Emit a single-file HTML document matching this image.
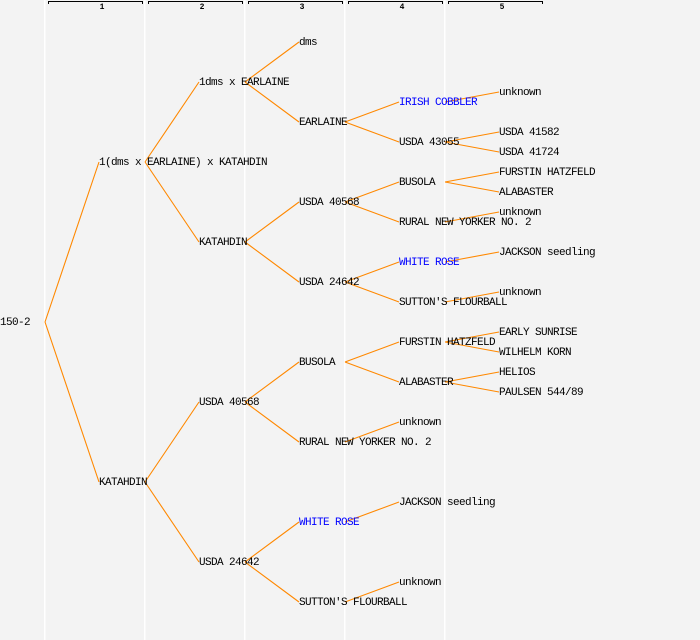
<!DOCTYPE html>
<html><head><meta charset="utf-8"><style>
html,body{margin:0;padding:0;background:#f3f3f3;}
svg{display:block;}
text{font-family:"Liberation Mono","DejaVu Sans Mono",monospace;font-size:11px;letter-spacing:-0.6px;fill:#000;dominant-baseline:middle;}
.b{fill:#0000ff;}
.h{font-size:8px;font-weight:bold;text-anchor:middle;letter-spacing:0;}
</style></head><body>
<svg width="700" height="640" viewBox="0 0 700 640" xmlns="http://www.w3.org/2000/svg">
<rect width="700" height="640" fill="#f3f3f3"/>
<g fill="#ffffff">
<rect x="44" y="0" width="1.5" height="640"/><rect x="144" y="0" width="1.5" height="640"/>
<rect x="244" y="0" width="1.5" height="640"/><rect x="344" y="0" width="1.5" height="640"/>
<rect x="444" y="0" width="1.5" height="640"/>
</g>
<g stroke="#000" stroke-width="1" fill="none">
<path d="M48.5 4V1.5H142.5V4"/><path d="M148.5 4V1.5H242.5V4"/><path d="M248.5 4V1.5H342.5V4"/>
<path d="M348.5 4V1.5H442.5V4"/><path d="M448.5 4V1.5H542.5V4"/>
</g>
<text class="h" x="102" y="7">1</text><text class="h" x="202" y="7">2</text><text class="h" x="302" y="7">3</text><text class="h" x="402" y="7">4</text><text class="h" x="502" y="7">5</text>
<g stroke="#ff8800" stroke-width="1.1" fill="none">
<path d="M45 322L99 162M45 322L99 482"/>
<path d="M145 162L199 82M145 162L199 242M145 482L199 402M145 482L199 562"/>
<path d="M245 82L299 42M245 82L299 122M245 242L299 202M245 242L299 282M245 402L299 362M245 402L299 442M245 562L299 522M245 562L299 602"/>
<path d="M345 122L399 102M345 122L399 142M345 202L399 182M345 202L399 222M345 282L399 262M345 282L399 302M345 362L399 342M345 362L399 382M345 442L399 422M345 522L399 502M345 602L399 582"/>
<path d="M445 102L499 92M445 142L499 132M445 142L499 152M445 182L499 172M445 182L499 192M445 222L499 212M445 262L499 252M445 302L499 292M445 342L499 332M445 342L499 352M445 382L499 372M445 382L499 392"/>
</g>
<text x="0" y="322">150-2</text>
<text x="99" y="162">1(dms x EARLAINE) x KATAHDIN</text>
<text x="99" y="482">KATAHDIN</text>
<text x="199" y="82">1dms x EARLAINE</text>
<text x="199" y="242">KATAHDIN</text>
<text x="199" y="402">USDA 40568</text>
<text x="199" y="562">USDA 24642</text>
<text x="299" y="42">dms</text>
<text x="299" y="122">EARLAINE</text>
<text x="299" y="202">USDA 40568</text>
<text x="299" y="282">USDA 24642</text>
<text x="299" y="362">BUSOLA</text>
<text x="299" y="442">RURAL NEW YORKER NO. 2</text>
<text x="299" y="522" class="b">WHITE ROSE</text>
<text x="299" y="602">SUTTON'S FLOURBALL</text>
<text x="399" y="102" class="b">IRISH COBBLER</text>
<text x="399" y="142">USDA 43055</text>
<text x="399" y="182">BUSOLA</text>
<text x="399" y="222">RURAL NEW YORKER NO. 2</text>
<text x="399" y="262" class="b">WHITE ROSE</text>
<text x="399" y="302">SUTTON'S FLOURBALL</text>
<text x="399" y="342">FURSTIN HATZFELD</text>
<text x="399" y="382">ALABASTER</text>
<text x="399" y="422">unknown</text>
<text x="399" y="502">JACKSON seedling</text>
<text x="399" y="582">unknown</text>
<text x="499" y="92">unknown</text>
<text x="499" y="132">USDA 41582</text>
<text x="499" y="152">USDA 41724</text>
<text x="499" y="172">FURSTIN HATZFELD</text>
<text x="499" y="192">ALABASTER</text>
<text x="499" y="212">unknown</text>
<text x="499" y="252">JACKSON seedling</text>
<text x="499" y="292">unknown</text>
<text x="499" y="332">EARLY SUNRISE</text>
<text x="499" y="352">WILHELM KORN</text>
<text x="499" y="372">HELIOS</text>
<text x="499" y="392">PAULSEN 544/89</text>
</svg>
</body></html>
